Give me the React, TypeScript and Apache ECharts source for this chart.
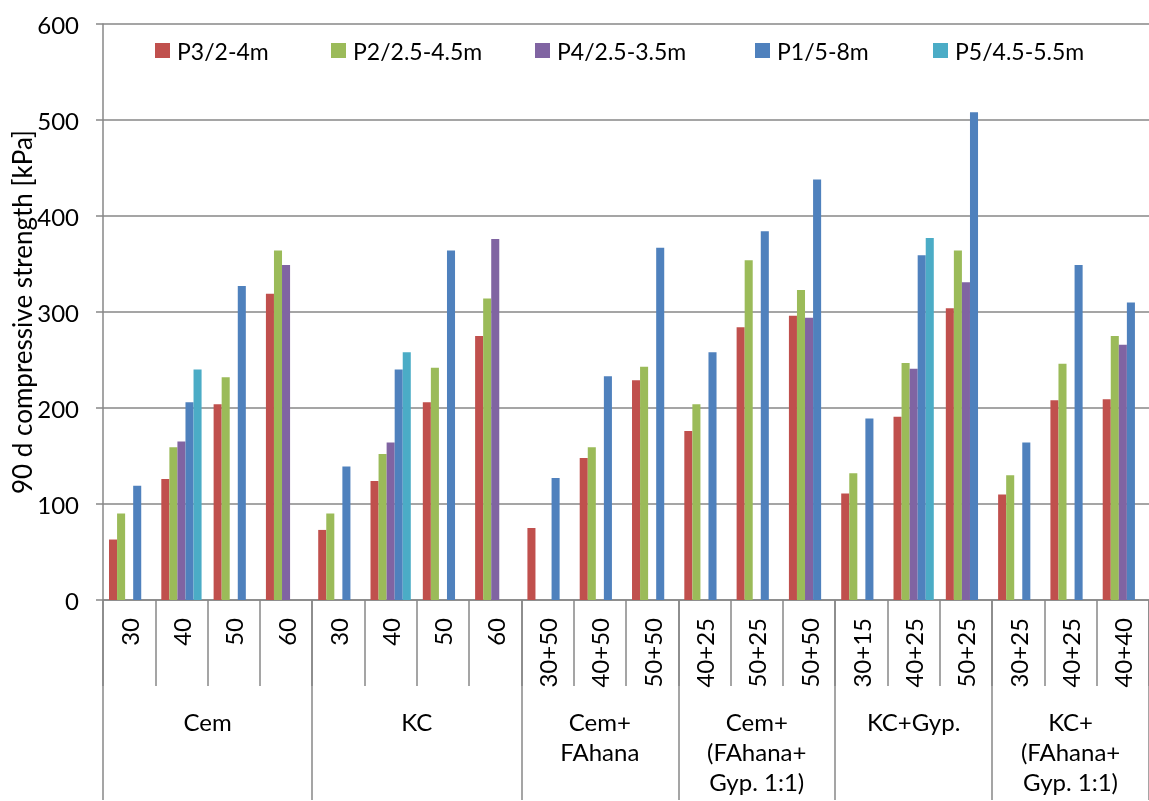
import React, { useEffect, useRef } from "react";
import * as echarts from "echarts";

const categories = [
  "30", "40", "50", "60",
  "30", "40", "50", "60",
  "30+50", "40+50", "50+50",
  "40+25", "50+25", "50+50",
  "30+15", "40+25", "50+25",
  "30+25", "40+25", "40+40",
];
const groupNames = [
  "Cem",
  "KC",
  "Cem+\nFAhana",
  "Cem+\n(FAhana+\nGyp. 1:1)",
  "KC+Gyp.",
  "KC+\n(FAhana+\nGyp. 1:1)",
];
const groupSizes = [4, 4, 3, 3, 3, 3];
const seriesNames = ["P3/2-4m", "P2/2.5-4.5m", "P4/2.5-3.5m", "P1/5-8m", "P5/4.5-5.5m"];
const p3 = [63, 126, 204, 319, 73, 124, 206, 275, 75, 148, 229, 176, 284, 296, 111, 191, 304, 110, 208, 209];
const p2 = [90, 159, 232, 364, 90, 152, 242, 314, null, 159, 243, 204, 354, 323, 132, 247, 364, 130, 246, 275];
const p4 = [null, 165, null, 349, null, 164, null, 376, null, null, null, null, null, 294, null, 241, 331, null, null, 266];
const p1 = [119, 206, 327, null, 139, 240, 364, null, 127, 233, 367, 258, 384, 438, 189, 359, 508, 164, 349, 310];
const p5 = [null, 240, null, null, null, 258, null, null, null, null, null, null, null, null, null, 377, null, null, null, null];
const seriesData = [p3, p2, p4, p1, p5];
const colors = ["#C0504D", "#9BBB59", "#8064A2", "#4F81BD", "#4BACC6"];
const legendLefts = [150, 326, 530, 750, 928];
const yTitle = "90 d compressive strength [kPa]";

const FONT = "Lato";
const FS = 24;
const GRAY = "#878787";

export default function App() {
  const ref = useRef<HTMLDivElement>(null);
  useEffect(() => {
    if (!ref.current) return;
    const chart = echarts.init(ref.current, null, { renderer: "svg" });
    const bounds: number[] = [0];
    groupSizes.forEach((s) => bounds.push(bounds[bounds.length - 1] + s));
    const centers = groupSizes.map((s, i) => bounds[i] + s / 2);

    chart.setOption({
      animation: false,
      textStyle: { fontFamily: FONT },
      grid: { left: 103, right: 0, top: 24, bottom: 201, containLabel: false, outerBoundsMode: "none" },
      legend: seriesNames.map((n, i) => ({
        data: [n],
        left: legendLefts[i],
        top: 34,
        icon: "rect",
        itemWidth: 15,
        itemHeight: 15,
        itemGap: 0,
        selectedMode: false,
        textStyle: { fontSize: 23, color: "#000", fontFamily: FONT, padding: [0, 0, 0, 2] },
      })),
      xAxis: [
        {
          type: "category",
          data: categories,
          position: "bottom",
          boundaryGap: true,
          axisLine: { show: true, lineStyle: { color: GRAY, width: 1.5 } },
          axisTick: { show: true, interval: 0, length: 86, alignWithLabel: false, lineStyle: { color: GRAY, width: 1.5 } },
          axisLabel: { interval: 0, rotate: 90, margin: 18, fontSize: FS, color: "#000", fontFamily: FONT },
          splitLine: { show: false },
        },
        {
          type: "value",
          min: 0,
          max: categories.length,
          position: "bottom",
          axisLine: { show: false },
          splitLine: { show: false },
          axisTick: { show: true, customValues: bounds, length: 200, lineStyle: { color: GRAY, width: 1.5 } },
          axisLabel: {
            customValues: centers,
            formatter: (v: number) => {
              const idx = centers.findIndex((c) => Math.abs(c - v) < 1e-6);
              return idx >= 0 ? groupNames[idx] : "";
            },
            margin: 106,
            fontSize: FS,
            lineHeight: 30,
            color: "#000",
            fontFamily: FONT,
            verticalAlign: "top",
            align: "center",
          },
        },
      ],
      yAxis: {
        type: "value",
        min: 0,
        max: 600,
        interval: 100,
        name: yTitle,
        nameLocation: "middle",
        nameGap: 68,
        nameMoveOverlap: false,
        nameTextStyle: { fontSize: 26, color: "#000", fontFamily: FONT },
        axisLine: { show: true, lineStyle: { color: GRAY, width: 1.5 } },
        axisTick: { show: true, length: 7, lineStyle: { color: GRAY, width: 1.5 } },
        axisLabel: { fontSize: FS, color: "#000", margin: 24, fontFamily: FONT },
        splitLine: { show: true, lineStyle: { color: GRAY, width: 1.5 } },
      },
      series: seriesNames.map((n, i) => ({
        name: n,
        type: "bar",
        xAxisIndex: 0,
        data: seriesData[i],
        barGap: "0%",
        barCategoryGap: "23%",
        itemStyle: { color: colors[i] },
      })),
    });
    return () => chart.dispose();
  }, []);
  return <div ref={ref} style={{ position: "fixed", left: 0, top: 0, width: 1149, height: 801 }} />;
}
